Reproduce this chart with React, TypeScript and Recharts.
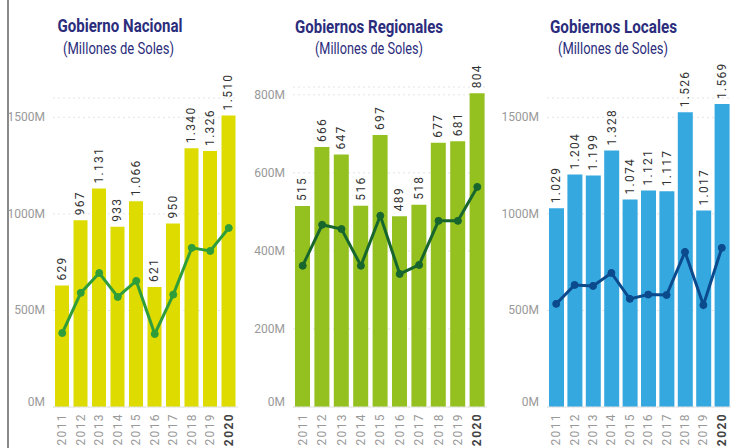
import { ComposedChart, Bar, Line, XAxis, YAxis, CartesianGrid, LabelList } from 'recharts';

const years = ['2011', '2012', '2013', '2014', '2015', '2016', '2017', '2018', '2019', '2020'];

const nacionalBars = [629, 967, 1131, 933, 1066, 621, 950, 1340, 1326, 1510];
const nacionalLine = [383, 591, 694, 570, 653, 378, 582, 824, 808, 927];

const regionalBars = [515, 666, 647, 516, 697, 489, 518, 677, 681, 804];
const regionalLine = [362, 467, 456, 362, 490, 341, 364, 477, 477, 564];

const localBars = [1029, 1204, 1199, 1328, 1074, 1121, 1117, 1526, 1017, 1569];
const localLine = [534, 632, 627, 694, 560, 582, 580, 803, 528, 824];

const ticksMillones = [0, 500, 1000, 1500];
const ticksRegional = [0, 200, 400, 600, 800];

const subtitle = '(Millones de Soles)';

const fmt = (v: number) =>
    v >= 1000 ? `${Math.floor(v / 1000)}.${String(v % 1000).padStart(3, '0')}` : String(v);

const ValueLabel = (props: any) => {
    const { x, y, width, value } = props;
    const cx = x + width / 2;
    const cy = y - 5;
    return (
        <text
            x={cx}
            y={cy}
            transform={`rotate(-90, ${cx}, ${cy})`}
            textAnchor="start"
            dominantBaseline="central"
            fontFamily="Roboto, sans-serif"
            fontSize={12}
            letterSpacing={1.3}
            fill="#333"
        >
            {fmt(value)}
        </text>
    );
};

const YearTick = (props: any) => {
    const { x, y, payload } = props;
    const last = payload.value === '2020';
    const ty = y - 2;
    return (
        <text
            x={x}
            y={ty}
            transform={`rotate(-90, ${x}, ${ty})`}
            textAnchor="end"
            dominantBaseline="central"
            fontFamily="Roboto, sans-serif"
            fontSize={12}
            letterSpacing={1.4}
            fontWeight={last ? 700 : 400}
            fill={last ? '#444' : '#999'}
        >
            {payload.value}
        </text>
    );
};

const MTick = (props: any) => {
    const { x, y, payload } = props;
    return (
        <text
            x={x}
            y={y}
            dy={payload.value === 0 ? -5 : 0}
            textAnchor="end"
            dominantBaseline="central"
            fontFamily="Roboto, sans-serif"
            fontSize={12}
            fill="#999"
        >
            {`${payload.value}M`}
        </text>
    );
};

function Panel(props: {
    left: number;
    width: number;
    top: number;
    domainMax: number;
    ticks: number[];
    bars: number[];
    line: number[];
    barColor: string;
    lineColor: string;
    barSize: number;
}) {
    const data = years.map((year, i) => ({ year, value: props.bars[i], trend: props.line[i] }));
    return (
        <div style={{ position: 'absolute', left: props.left, top: 0 }}>
            <ComposedChart
                width={props.width}
                height={448}
                data={data}
                margin={{ top: props.top, right: 0, bottom: 0, left: 0 }}
            >
                <CartesianGrid vertical={false} stroke="#e4e4e4" strokeDasharray="2 3" />
                <XAxis
                    dataKey="year"
                    height={41}
                    interval={0}
                    tickLine={false}
                    axisLine={{ stroke: '#e2e2e2' }}
                    tick={<YearTick />}
                />
                <YAxis
                    width={53}
                    domain={[0, props.domainMax]}
                    ticks={props.ticks}
                    axisLine={false}
                    tickLine={false}
                    tick={<MTick />}
                />
                <Bar dataKey="value" fill={props.barColor} barSize={props.barSize} isAnimationActive={false}>
                    <LabelList dataKey="value" content={<ValueLabel />} />
                </Bar>
                <Line
                    dataKey="trend"
                    stroke={props.lineColor}
                    strokeWidth={3}
                    dot={{ r: 3.5, fill: props.lineColor, stroke: props.lineColor, strokeWidth: 1 }}
                    isAnimationActive={false}
                />
            </ComposedChart>
        </div>
    );
}

const titleStyle = { fontFamily: 'Roboto, sans-serif', fill: '#2b2d7c' };

export default function App() {
    return (
        <div
            style={{
                position: 'absolute',
                left: 0,
                top: 0,
                width: 739,
                height: 448,
                overflow: 'hidden',
                background: '#fff',
            }}
        >
            <div style={{ position: 'absolute', left: 7, top: 0, width: 2, height: 448, background: '#8a8a8a' }} />
            <Panel left={0} width={238} top={98} domainMax={1600} ticks={ticksMillones}
                bars={nacionalBars} line={nacionalLine} barColor="#dedb00" lineColor="#2f9e3a" barSize={14} />
            <Panel left={240} width={247} top={87} domainMax={820} ticks={ticksRegional}
                bars={regionalBars} line={regionalLine} barColor="#94c11f" lineColor="#17662e" barSize={15} />
            <Panel left={494} width={237} top={98} domainMax={1600} ticks={ticksMillones}
                bars={localBars} line={localLine} barColor="#36a8e0" lineColor="#0b4a8c" barSize={15} />
            <svg width={739} height={70} style={{ position: 'absolute', left: 0, top: 0 }}>
                <text x={120} y={32} textAnchor="middle" fontSize={19} fontWeight={700} textLength={125}
                    lengthAdjust="spacingAndGlyphs" style={titleStyle}>Gobierno Nacional</text>
                <text x={118.5} y={54} textAnchor="middle" fontSize={16} textLength={111}
                    lengthAdjust="spacingAndGlyphs" style={titleStyle}>{subtitle}</text>
                <text x={369} y={33} textAnchor="middle" fontSize={19} fontWeight={700} textLength={148}
                    lengthAdjust="spacingAndGlyphs" style={titleStyle}>Gobiernos Regionales</text>
                <text x={369} y={54} textAnchor="middle" fontSize={16} textLength={108}
                    lengthAdjust="spacingAndGlyphs" style={titleStyle}>{subtitle}</text>
                <text x={613.5} y={33} textAnchor="middle" fontSize={19} fontWeight={700} textLength={127}
                    lengthAdjust="spacingAndGlyphs" style={titleStyle}>Gobiernos Locales</text>
                <text x={613} y={54} textAnchor="middle" fontSize={16} textLength={110}
                    lengthAdjust="spacingAndGlyphs" style={titleStyle}>{subtitle}</text>
            </svg>
        </div>
    );
}
